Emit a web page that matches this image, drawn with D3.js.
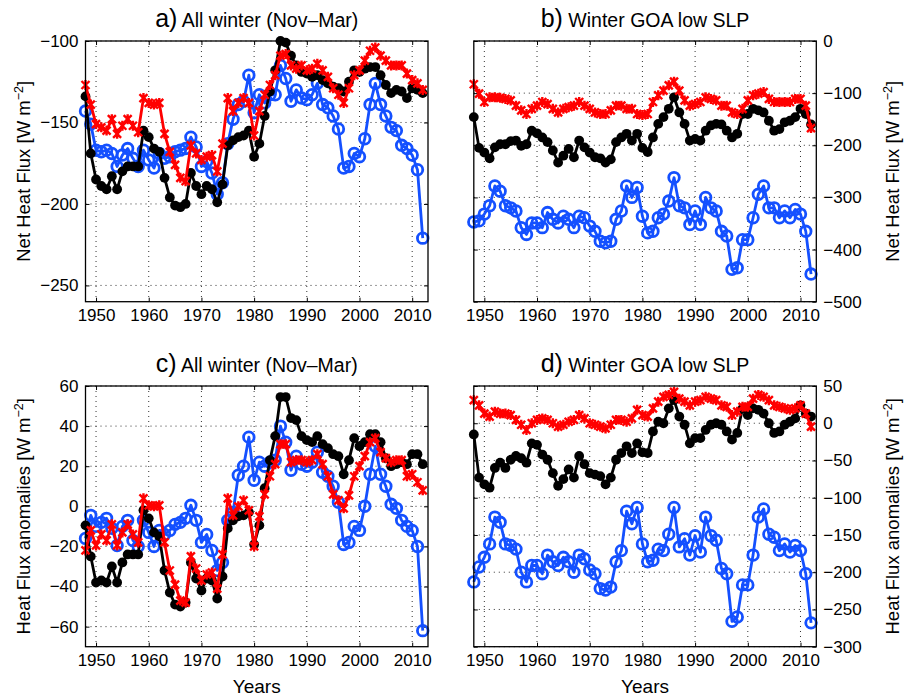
<!DOCTYPE html>
<html>
<head>
<meta charset="utf-8">
<script src="https://cdn.jsdelivr.net/npm/d3@7"></script>
<style>
body { margin: 0; background: #fff; }
svg text { font-family: "Liberation Sans", Arial, Helvetica, sans-serif; fill: #000; }
</style>
</head>
<body>
<div id="chart"></div>
<script>
var width = 904,
    height = 696;

var years = d3.range(1948, 2013);
var yearTicks = [1950, 1960, 1970, 1980, 1990, 2000, 2010];

// a) all winter, net heat flux
var aBlack = [-134, -169, -185, -189, -191, -183, -191, -180, -177, -177,
    -177, -155, -159, -166, -168, -184, -196, -201, -202, -200,
    -181, -189, -194, -189, -191, -199, -188, -164, -161, -159,
    -158, -155, -171, -163, -146, -131, -118, -100, -101, -109,
    -115, -119, -120, -122, -121, -124, -126, -128, -129, -131,
    -125, -118, -119, -117, -116, -116, -121, -127, -132, -130,
    -131, -135, -129, -130, -132];
var aRed = [-127, -139, -151, -153, -155, -148, -157, -152, -148, -152,
    -156, -135, -138, -139, -138, -157, -168, -176, -184, -186,
    -164, -169, -173, -171, -170, -180, -163, -135, -143, -138,
    -135, -138, -158, -143, -133, -127, -121, -109, -108, -115,
    -117, -115, -118, -117, -114, -118, -122, -129, -133, -138,
    -129, -121, -118, -112, -106, -104, -109, -112, -115, -115,
    -115, -120, -124, -126, -130];
var aBlue = [-143, -151, -167, -168, -167, -169, -177, -170, -166, -172,
    -177, -167, -173, -178, -169, -172, -171, -168, -167, -166,
    -159, -165, -177, -174, -181, -194, -187, -163, -148, -139,
    -137, -121, -144, -133, -138, -133, -133, -115, -123, -137,
    -130, -135, -136, -133, -126, -139, -141, -146, -154, -178,
    -177, -169, -171, -160, -139, -126, -139, -146, -153, -155,
    -164, -166, -170, -179, -221];

// b) winter GOA low SLP, net heat flux
var bBlack = [-146, -205, -214, -225, -204, -198, -198, -192, -191, -201,
    -198, -172, -177, -185, -194, -210, -233, -220, -207, -223,
    -191, -204, -214, -223, -225, -233, -227, -194, -185, -178,
    -191, -178, -205, -213, -185, -159, -146, -130, -108, -137,
    -159, -191, -188, -191, -172, -162, -159, -160, -172, -185,
    -178, -140, -140, -130, -133, -137, -153, -172, -169, -156,
    -153, -146, -130, -140, -160];
var bRed = [-83, -101, -117, -108, -108, -109, -111, -114, -124, -133,
    -140, -130, -124, -117, -121, -130, -137, -130, -127, -124,
    -117, -124, -130, -137, -140, -140, -133, -124, -124, -130,
    -130, -140, -142, -140, -117, -104, -95, -85, -78, -95,
    -114, -124, -121, -117, -108, -111, -114, -124, -124, -137,
    -140, -130, -114, -104, -101, -98, -111, -117, -117, -117,
    -117, -111, -111, -124, -167];
var bBlue = [-347, -345, -332, -316, -278, -288, -316, -320, -326, -358,
    -371, -349, -349, -358, -329, -342, -349, -336, -342, -358,
    -336, -339, -355, -365, -384, -387, -384, -342, -326, -278,
    -300, -281, -336, -368, -365, -339, -332, -307, -262, -316,
    -320, -352, -326, -352, -300, -320, -326, -365, -374, -438,
    -435, -381, -381, -339, -294, -278, -320, -320, -339, -326,
    -339, -323, -332, -365, -447];

// c) all winter, anomalies
var cBlack = [-9.5, -25, -38, -37, -38, -30, -38, -28, -24, -24,
    -24, -2, -6, -13, -15, -32, -43, -49, -50, -48,
    -28, -36, -42, -36, -37, -46, -35, -11, -7, -5,
    -4.5, -3, -19, -9.5, 9, 23, 35, 54.5, 54.5, 44,
    43, 35, 33, 32, 35, 31, 29, 26, 25, 16,
    23, 34, 30, 32, 36, 36, 32, 24, 20, 21,
    22, 21, 26, 26, 21];
var cRed = [-22, -12, -19.5, -14, -17, -9, -19.5, -13, -9, -14,
    -18, 4, 0.5, 0, 0.5, -18, -32, -39, -47, -48,
    -25, -31, -37, -34, -33, -41, -24, 4, -4.5, 0,
    3, -2, -20, -5, 6, 15, 21, 31, 31, 22,
    23, 23, 22, 23, 26, 21, 15, 6, 3, -1,
    5.5, 15, 20, 25, 32, 34, 27, 24, 22, 23,
    23, 15, 16, 12, 8];
var cBlue = [-16, -4.5, -10, -8, -6, -11, -19.5, -10, -7, -17,
    -20, -7, -13, -20, -12, -14, -12, -9, -8, -6,
    0.5, -7, -18, -14, -22, -32, -28, -7, -3, 15.5,
    20, 34.5, 13, 22, 20, 22, 23, 40, 32, 18,
    25, 21, 20, 22, 27, 17, 15, 10, 2, -19,
    -18, -10, -12, 0, 16, 30, 16, 10, 1, -1,
    -7, -10, -12, -20, -62];

// d) winter GOA low SLP, anomalies
var dBlack = [-15, -73, -82, -86.5, -60, -53, -60, -49, -44, -47,
    -53, -27, -29, -42, -49, -67, -84, -75, -62, -73,
    -44, -55, -67, -69, -71, -82, -73, -49, -40, -31,
    -40, -27, -39, -40, -11, 2, 0, 20, 31, 9,
    -2, -27, -20, -20, -9, -2, 0, -2, -11, -22,
    -13, 20, 11, 20, 18, 13, 0, -13, -11, -2,
    2, 6.5, 24, 13, 9];
var dRed = [31, 24, 13, 9, 15.5, 13, 13, 11, 4.5, -2,
    -9, 0, 4.5, 6.5, 4.5, 0, -4.5, -2, 2, 4.5,
    11, 6.5, 0, -2, -4.5, -7, -2, 4.5, 4.5, 2,
    6.5, 18, 11, 9, 20, 29, 35.5, 38, 42, 33,
    29, 24, 29, 31, 35.5, 33, 31, 24, 22, 11,
    15.5, 22, 22, 33, 38, 35.5, 31, 24, 22, 20,
    18, 20, 24, 13, -4.5];
var dBlue = [-213, -193, -180, -162, -126, -133, -162, -164, -169, -200,
    -213, -191, -191, -202, -177, -186, -191, -180, -186, -200,
    -177, -182, -197, -202, -222, -224, -220, -186, -171, -118,
    -135, -113, -162, -186, -184, -169, -171, -149, -113, -166,
    -155, -177, -151, -173, -126, -151, -157, -195, -202, -266,
    -260, -217, -217, -177, -126, -115, -149, -153, -171, -162,
    -173, -164, -171, -202, -268];

var aTicks = [-250, -200, -150, -100],
    bTicks = [-500, -400, -300, -200, -100, 0],
    cTicks = [-60, -40, -20, 0, 20, 40, 60],
    dTicks = [-300, -250, -200, -150, -100, -50, 0, 50];

var panelW = 342.5,
    panelH = 260.7;

var blue = "#1450ff",
    red = "#ff0000";

var panels = [
    { letter: "a)", title: " All winter (Nov\u2013Mar)", left: 85.5, top: 41, domain: [-260, -100],
      ticks: aTicks, side: "left", data: [aBlue, aBlack, aRed], ylabel: "Net Heat Flux", years: false },
    { letter: "b)", title: " Winter GOA low SLP", left: 473.8, top: 41, domain: [-500, 0],
      ticks: bTicks, side: "right", data: [bBlue, bBlack, bRed], ylabel: "Net Heat Flux", years: false },
    { letter: "c)", title: " All winter (Nov\u2013Mar)", left: 85.5, top: 386, domain: [-70, 60],
      ticks: cTicks, side: "left", data: [cBlue, cBlack, cRed], ylabel: "Heat Flux anomalies", years: true },
    { letter: "d)", title: " Winter GOA low SLP", left: 473.8, top: 386, domain: [-300, 50],
      ticks: dTicks, side: "right", data: [dBlue, dBlack, dRed], ylabel: "Heat Flux anomalies", years: true }
];

var svg = d3.select("#chart")
    .append("svg")
    .attr("width", width)
    .attr("height", height);

svg.append("rect")
    .attr("width", width)
    .attr("height", height)
    .style("fill", "#fff");

function styleAxis(g) {
    g.select(".domain").remove();
    g.attr("font-size", null).attr("font-family", null);
    g.selectAll("line").attr("stroke", "#000").attr("stroke-width", 1);
    g.selectAll("text").style("font-size", "17px");
}

function drawPanel(p) {
    var g = svg.append("g")
        .attr("transform", `translate(${p.left}, ${p.top})`);

    var x = d3.scaleLinear().domain([1948, 2013]).range([0, panelW]);
    var y = d3.scaleLinear().domain(p.domain).range([panelH, 0]);

    // dotted grid
    g.selectAll(".vgrid")
        .data(yearTicks)
        .enter()
        .append("line")
        .attr("x1", d => x(d))
        .attr("x2", d => x(d))
        .attr("y1", 0)
        .attr("y2", panelH)
        .style("stroke", "#333")
        .style("stroke-dasharray", "1,4");

    g.selectAll(".hgrid")
        .data(p.ticks)
        .enter()
        .append("line")
        .attr("x1", 0)
        .attr("x2", panelW)
        .attr("y1", d => y(d))
        .attr("y2", d => y(d))
        .style("stroke", "#333")
        .style("stroke-dasharray", "1,4");

    // axes (ticks inside, like matlab)
    var fmtY = d3.format("d");
    var yAxisMain = p.side == "left" ? d3.axisLeft(y) : d3.axisRight(y);
    var yAxisOther = p.side == "left" ? d3.axisRight(y) : d3.axisLeft(y);

    g.append("g")
        .attr("transform", p.side == "left" ? "translate(0,0)" : `translate(${panelW},0)`)
        .call(yAxisMain.tickValues(p.ticks).tickSize(-4).tickPadding(7).tickFormat(fmtY))
        .call(styleAxis);

    g.append("g")
        .attr("transform", p.side == "left" ? `translate(${panelW},0)` : "translate(0,0)")
        .call(yAxisOther.tickValues(p.ticks).tickSize(-4).tickFormat(""))
        .call(styleAxis);

    g.append("g")
        .attr("transform", `translate(0, ${panelH})`)
        .call(d3.axisBottom(x).tickValues(yearTicks).tickSize(-4).tickPadding(7).tickFormat(d3.format("d")))
        .call(styleAxis);

    g.append("g")
        .call(d3.axisTop(x).tickValues(yearTicks).tickSize(-4).tickFormat(""))
        .call(styleAxis);

    // series: blue, black, red
    var line = d3.line()
        .x((d, i) => x(years[i]))
        .y(d => y(d));

    var colors = [blue, "#000", red];

    p.data.forEach(function (vals, k) {
        var s = g.append("g");
        s.append("path")
            .datum(vals)
            .attr("d", line)
            .style("fill", "none")
            .style("stroke", colors[k])
            .style("stroke-width", 2.8)
            .style("stroke-linejoin", "round");

        if (k == 0) {
            s.selectAll("circle")
                .data(vals)
                .enter()
                .append("circle")
                .attr("cx", (d, i) => x(years[i]))
                .attr("cy", d => y(d))
                .attr("r", 5.3)
                .style("fill", "none")
                .style("stroke", blue)
                .style("stroke-width", 2.8);
        } else if (k == 1) {
            s.selectAll("circle")
                .data(vals)
                .enter()
                .append("circle")
                .attr("cx", (d, i) => x(years[i]))
                .attr("cy", d => y(d))
                .attr("r", 4.9)
                .style("fill", "#000");
        } else {
            s.selectAll("path.mk")
                .data(vals)
                .enter()
                .append("path")
                .attr("class", "mk")
                .attr("transform", (d, i) => `translate(${x(years[i])}, ${y(d)})`)
                .attr("d", "M-4,-4L4,4M-4,4L4,-4M0,-5L0,5")
                .style("stroke", red)
                .style("stroke-width", 2.4);
        }
    });

    // frame
    g.append("rect")
        .attr("width", panelW)
        .attr("height", panelH)
        .style("fill", "none")
        .style("stroke", "#000")
        .style("stroke-width", 1.3);

    // title
    var t = svg.append("text")
        .attr("x", p.left + panelW / 2)
        .attr("y", p.top - 14)
        .style("text-anchor", "middle");
    t.append("tspan").style("font-size", "25px").text(p.letter);
    t.append("tspan").style("font-size", "19.5px").text(p.title);

    // y label
    var lx = p.side == "left" ? 30 : 899;
    var yl = svg.append("text")
        .attr("transform", `translate(${lx}, ${p.top + panelH / 2}) rotate(-90)`)
        .style("text-anchor", "middle")
        .style("font-size", "18.5px");
    yl.append("tspan").text(p.ylabel + " [W m");
    yl.append("tspan").attr("dy", -7).style("font-size", "12.5px").text("\u22122");
    yl.append("tspan").attr("dy", 7).text("]");

    if (p.years) {
        svg.append("text")
            .attr("x", p.left + panelW / 2)
            .attr("y", 693)
            .style("text-anchor", "middle")
            .style("font-size", "19px")
            .text("Years");
    }
}

panels.forEach(drawPanel);
</script>
</body>
</html>
